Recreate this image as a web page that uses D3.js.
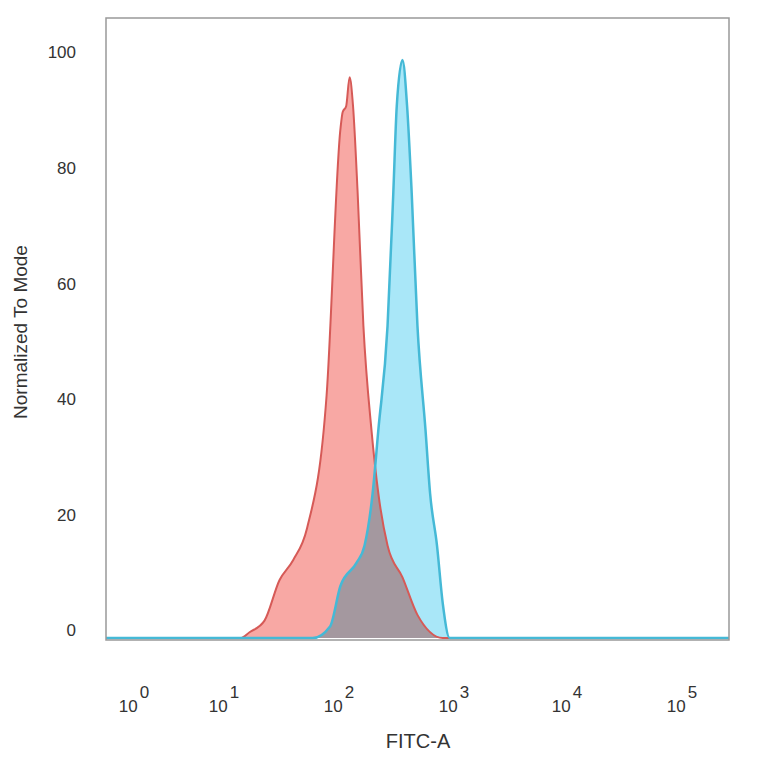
<!DOCTYPE html>
<html><head><meta charset="utf-8">
<script src="https://cdn.jsdelivr.net/npm/d3@7"></script>
<style>body{margin:0;background:#fff}text{font-family:"Liberation Sans",Arial,sans-serif;fill:#333}</style>
</head><body><div id="app"></div>
<script>
// log10 of FITC-A and normalized count
const redLog = [-0.4, 1.09, 1.17, 1.30, 1.43, 1.55, 1.67, 1.84, 1.96, 1.98, 2.01, 2.04, 2.07, 2.11, 2.16, 2.23, 2.29, 2.37, 2.50, 2.63, 2.85, 5.4];
const redVal = [0, 0, 1, 3, 10, 13.5, 19, 42, 88, 91, 92, 97, 92, 77, 54, 36, 25, 16, 10.5, 4, 0, 0];
const blueLog = [-0.4, 1.72, 1.87, 1.96, 2.10, 2.17, 2.24, 2.29, 2.37, 2.42, 2.45, 2.50, 2.54, 2.58, 2.63, 2.70, 2.74, 2.80, 2.85, 2.91, 5.4];
const blueVal = [0, 0, 2, 9, 13, 16, 25, 36, 54, 77, 92, 100, 92, 77, 54, 36, 25, 16, 6, 0, 0];
const xTicks = [0, 1, 2, 3, 4, 5];
const yTicks = [0, 20, 40, 60, 80, 100];

const W = 764, H = 764;
const mLeft = 106, mRight = 729, mTop = 18, mBottom = 640;

const svg = d3.select("#app").append("svg").attr("width", W).attr("height", H);

// display axis is not a pure log: first decade is compressed
const x = d3.scaleLinear()
  .domain([-1, 0, 1, 2, 3, 4, 5, 6])
  .range([40, 140, 230, 345, 460, 573, 688, 803])
  .clamp(true);
const y = d3.scaleLinear().domain([0, 100]).range([638, 60]);

svg.append("clipPath").attr("id", "plot")
  .append("rect").attr("x", mLeft).attr("y", mTop).attr("width", mRight - mLeft).attr("height", mBottom - mTop);

const area = d3.area().x(d => x(d[0])).y0(y(0)).y1(d => y(d[1])).curve(d3.curveMonotoneX);
const line = d3.line().x(d => x(d[0])).y(d => y(d[1])).curve(d3.curveMonotoneX);

const plot = svg.append("g").attr("clip-path", "url(#plot)");
const red = redLog.map((v, i) => [v, redVal[i]]);
const blue = blueLog.map((v, i) => [v, blueVal[i]]);

plot.append("path").datum(blue).attr("d", area).attr("fill", "#a9e7f8");
plot.append("path").datum(red).attr("d", area).attr("fill", "#f8a8a4").style("mix-blend-mode", "multiply");
plot.append("path").datum(red).attr("d", line).attr("fill", "none").attr("stroke", "#d65a57").attr("stroke-width", 2);
plot.append("path").datum(blue).attr("d", line).attr("fill", "none").attr("stroke", "#45b9d6").attr("stroke-width", 2.5);

svg.append("rect").attr("x", mLeft).attr("y", mTop).attr("width", mRight - mLeft).attr("height", mBottom - mTop)
  .attr("fill", "none").attr("stroke", "#999").attr("stroke-width", 1.5);

// y tick labels
svg.append("g").selectAll("text").data(yTicks).join("text")
  .attr("x", 76).attr("y", d => y(d) - 6).attr("text-anchor", "end")
  .attr("dominant-baseline", "middle").attr("font-size", 17).text(d => d);

// x tick labels 10^n
const xl = svg.append("g").selectAll("text").data(xTicks).join("text")
  .attr("x", d => x(d) - 6).attr("y", 712).attr("text-anchor", "middle").attr("font-size", 17);
xl.append("tspan").text("10");
xl.append("tspan").attr("dy", -14).attr("dx", 2).attr("font-size", 17).text(d => d);

svg.append("text").attr("x", 418).attr("y", 748).attr("text-anchor", "middle")
  .attr("font-size", 20).text("FITC-A");
svg.append("text").attr("transform", "translate(27,332) rotate(-90)").attr("text-anchor", "middle")
  .attr("font-size", 19).text("Normalized To Mode");
</script></body></html>
